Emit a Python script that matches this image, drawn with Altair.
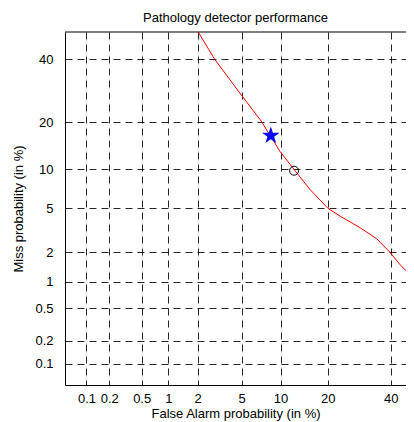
import altair as alt
import pandas as pd
from statistics import NormalDist

# ---- data (percent values) ----
fa_curve = [1.95, 2.9, 4.7, 7.2, 9.9, 12.4, 15.7, 20.1, 23.4, 29.5, 35.0, 39.7, 43.4, 48.3, 50.0]
miss_curve = [51.0, 40.0, 29.1, 20.3, 13.3, 10.0, 7.1, 5.0, 4.3, 3.4, 2.7, 2.0, 1.5, 1.09, 0.97]
star_fa = [8.5]
star_miss = [16.7]
circle_fa = [12.4]
circle_miss = [9.8]
tick_values = [0.1, 0.2, 0.5, 1, 2, 5, 10, 20, 40]
tick_labels = ["0.1", "0.2", "0.5", "1", "2", "5", "10", "20", "40"]
axis_limits = [0.05, 50.0]  # percent, both axes

nd = NormalDist()


def probit(p):
    return nd.inv_cdf(p / 100.0)


W, H = 341, 353
lo = probit(axis_limits[0])
hi = probit(axis_limits[1])
# x axis is cut by the window edge: same px/unit as the y axis
x_hi = lo + W / (H / (hi - lo))

curve = pd.DataFrame({"px": [probit(v) for v in fa_curve], "py": [probit(v) for v in miss_curve]})
star = pd.DataFrame({"px": [probit(v) for v in star_fa], "py": [probit(v) for v in star_miss]})
circ = pd.DataFrame({"px": [probit(v) for v in circle_fa], "py": [probit(v) for v in circle_miss]})

tick_pos = [probit(v) for v in tick_values]
parts = [f"abs(datum.value - ({p:.6f})) < 0.001 ? '{l}'" for p, l in zip(tick_pos, tick_labels)]
label_expr = " : ".join(parts) + " : ''"

STAR_PATH = ("M0,-1 L0.2245,-0.309 L0.951,-0.309 L0.363,0.118 L0.588,0.809 L0,0.382 "
             "L-0.588,0.809 L-0.363,0.118 L-0.951,-0.309 L-0.2245,-0.309 Z")

FONT = "Liberation Sans"
xscale = alt.Scale(domain=[lo, x_hi], nice=False, zero=False)
yscale = alt.Scale(domain=[lo, hi], nice=False, zero=False)

common_axis = dict(
    values=tick_pos,
    labelExpr=label_expr,
    grid=True,
    gridColor="#000000",
    gridDash=[7, 5],
    gridWidth=1,
    gridOpacity=0.85,
    ticks=False,
    domainColor="#000000",
    domainWidth=1,
    labelFont=FONT,
    labelFontSize=13,
    labelColor="#000000",
    titleFont=FONT,
    titleFontSize=13,
    titleFontWeight="normal",
    titleColor="#000000",
)

xaxis = alt.Axis(title="False Alarm probability (in %)", labelPadding=7, titlePadding=2, **common_axis)
yaxis = alt.Axis(title="Miss probability (in %)", labelPadding=12, titlePadding=9, **common_axis)

line = alt.Chart(curve).mark_line(color="#ff0000", strokeWidth=1, clip=True).encode(
    x=alt.X("px:Q", scale=xscale, axis=xaxis),
    y=alt.Y("py:Q", scale=yscale, axis=yaxis),
    order=alt.Order("px:Q"),
)

star_layer = alt.Chart(star).mark_point(shape=STAR_PATH, filled=True, color="#0000ff", size=340, opacity=1).encode(
    x=alt.X("px:Q", scale=xscale),
    y=alt.Y("py:Q", scale=yscale),
)

circ_layer = alt.Chart(circ).mark_point(shape="circle", filled=False, color="#000000", size=81, strokeWidth=1, opacity=1).encode(
    x=alt.X("px:Q", scale=xscale),
    y=alt.Y("py:Q", scale=yscale),
)

top_frame = alt.Chart(star).mark_rule(color="#000000", strokeWidth=1).encode(
    x=alt.value(0), x2=alt.value(W), y=alt.value(0)
)

chart = alt.layer(line, circ_layer, star_layer, top_frame).properties(
    width=W,
    height=H,
    title=alt.TitleParams("Pathology detector performance", font=FONT, fontSize=13, fontWeight="normal",
                          color="#000000", offset=7, anchor="middle"),
    autosize=alt.AutoSizeParams(type="none"),
    padding={"left": 57, "top": 24, "right": 0, "bottom": 37},
).configure_view(stroke=None)

chart.save("out.html", embed_options={"renderer": "svg", "actions": False})
